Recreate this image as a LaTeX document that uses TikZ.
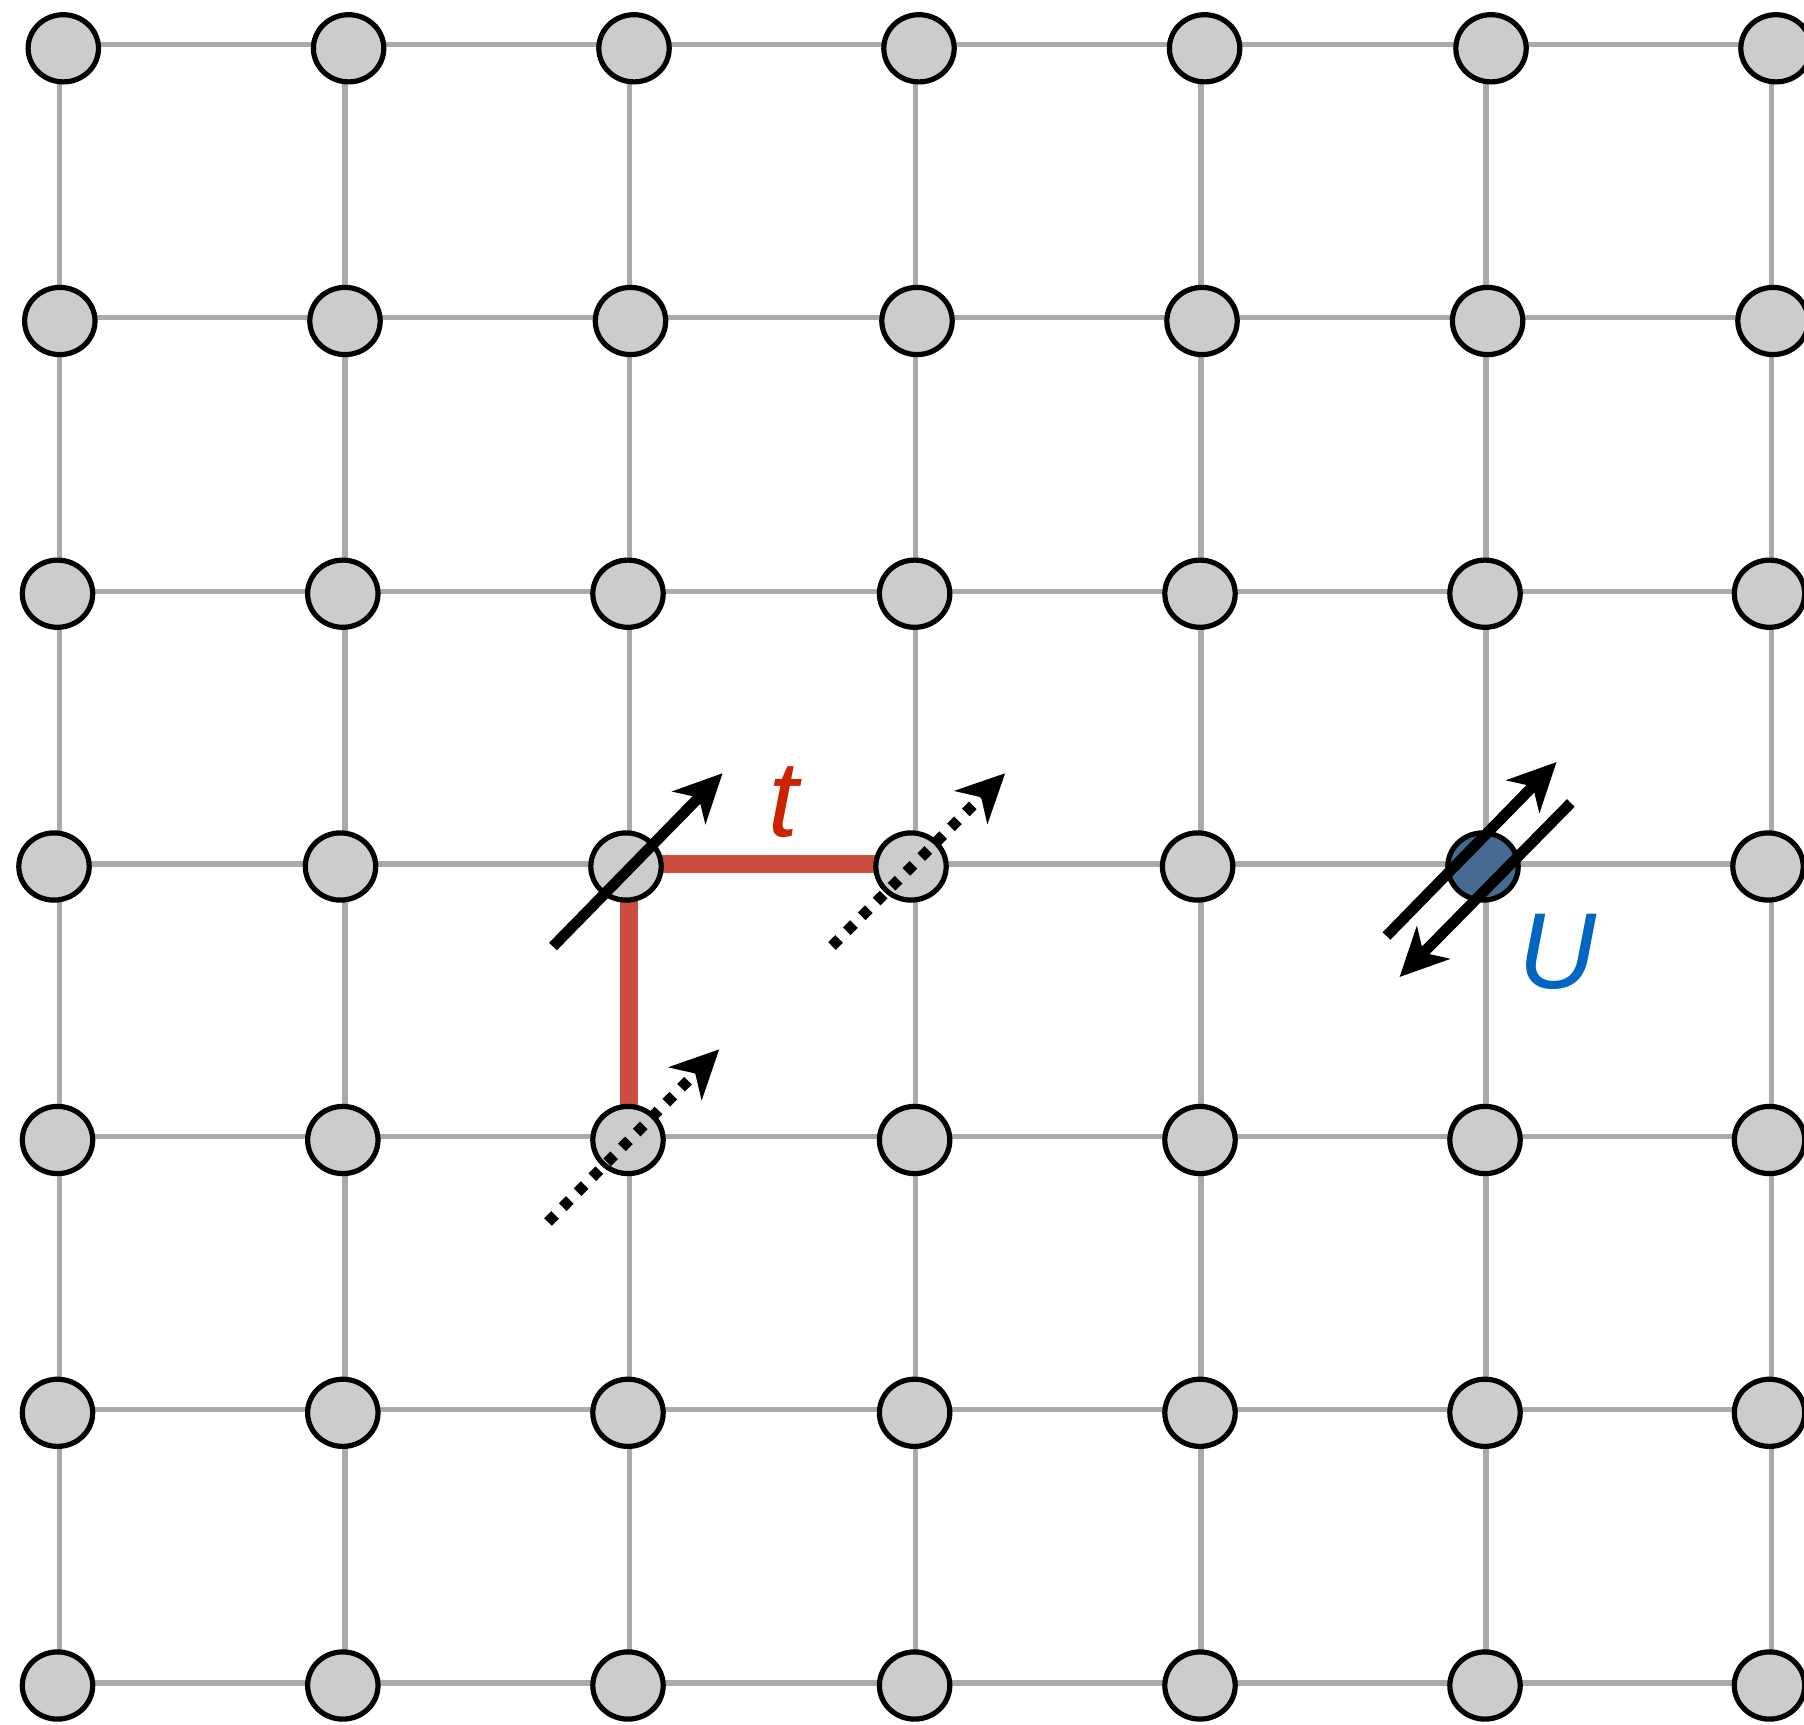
\documentclass[tikz,border=0pt]{standalone}
\usepackage{fontspec}
\setmainfont{Liberation Sans}
\usetikzlibrary{shapes.geometric,arrows.meta}
\definecolor{gridgray}{HTML}{AAAAAA}
\definecolor{sitegray}{HTML}{CCCCCC}
\definecolor{siteblue}{HTML}{476A92}
\definecolor{hopred}{HTML}{CC4E3E}
\definecolor{tred}{HTML}{CC2200}
\definecolor{ublue}{HTML}{0066C2}
\tikzset{
  gridline/.style={draw=gridgray, line width=2.6pt},
  site/.style={ellipse, draw=black, line width=2.6pt, fill=sitegray, minimum width=35.2pt, minimum height=33.6pt, inner sep=0pt},
  spinarrow/.style={draw=black, line width=5.4pt, -{Stealth[length=24pt,width=23pt,inset=7pt]}},
  dotarrow/.style={spinarrow, dash pattern=on 5pt off 5.5pt},
  hop/.style={draw=hopred, line width=9pt},
  lbl/.style={inner sep=0pt, font=\fontsize{54}{60}\selectfont\itshape}
}
\begin{document}
\begin{tikzpicture}[x=0.5pt,y=-0.5pt]
\useasboundingbox (0,0) rectangle (1804,1724);
\fill[white] (0,0) rectangle (1804,1724);
\clip (0,0) rectangle (1804,1724);
% grid intersection coordinates
\foreach \c/\gx in {0/59.8,1/345,2/629.3,3/915.8,4/1201,5/1486,6/1771.7}{
  \foreach \r/\gy in {0/44.3,1/317.5,2/591.4,3/864,4/1136.7,5/1409.4,6/1683}{
    \coordinate (g-\c-\r) at (\gx,\gy);
  }
}
% grid lines
\foreach \c in {0,...,6}{ \draw[gridline] (g-\c-0) -- (g-\c-6); }
\foreach \r in {0,...,6}{ \draw[gridline] (g-0-\r) -- (g-6-\r); }
% hopping bonds
\draw[hop] (g-2-3) -- (g-3-3);
\draw[hop] (g-2-3) -- (g-2-4);
% sites
\foreach \c/\xx in {0/63.3,1/348.6,2/634,3/919,4/1204.6,5/1491,6/1776}{ \node[site] (n-\c-0) at (\xx,48.3) {}; }
\foreach \c/\xx in {0/59.8,1/345,2/630.5,3/917,4/1202,5/1487.6,6/1773}{ \node[site] (n-\c-1) at (\xx,321) {}; }
\foreach \c/\xx in {0/57.5,1/342.8,2/628,3/914.6,4/1200,5/1485,6/1769.5}{ \node[site] (n-\c-2) at (\xx,593.7) {}; }
\foreach \c/\xx in {0/54,1/340.5,2/626,3/911,4/1197.6,6/1768}{ \node[site] (n-\c-3) at (\xx,866.5) {}; }
\node[site, fill=siteblue] (n-5-3) at (1483,866.5) {};
\foreach \c/\xx in {0/57.5,1/342.8,2/628,3/914.6,4/1200,5/1485,6/1769.5}{ \node[site] (n-\c-4) at (\xx,1140) {}; }
\foreach \c/\xx in {0/57.5,1/342.8,2/628,3/914.6,4/1200,5/1485,6/1769.5}{ \node[site] (n-\c-5) at (\xx,1412.8) {}; }
\foreach \c/\xx in {0/57.5,1/342.8,2/628,3/914.6,4/1200,5/1485,6/1769.5}{ \node[site] (n-\c-6) at (\xx,1685.5) {}; }
% spin arrows
\coordinate (a1s) at (553,946.5);   \coordinate (a1e) at (722.6,773.2);
\coordinate (a2s) at (832,946);     \coordinate (a2e) at (1005.2,773.2);
\coordinate (a3s) at (548,1222);    \coordinate (a3e) at (719.2,1049.3);
\coordinate (a4s) at (1386.5,936);  \coordinate (a4e) at (1556.6,762);
\coordinate (a5s) at (1570.8,803);  \coordinate (a5e) at (1399.5,977);
\draw[spinarrow] (a1s) -- (a1e);
\draw[dotarrow] (a2s) -- (a2e);
\draw[dotarrow] (a3s) -- (a3e);
\draw[spinarrow] (a4s) -- (a4e);
\draw[spinarrow] (a5s) -- (a5e);
% labels
\node[lbl, text=tred] (tlabel) at (783,802) {t};
\node[lbl, text=ublue] (ulabel) at (1557,952) {U};
\end{tikzpicture}
\end{document}
